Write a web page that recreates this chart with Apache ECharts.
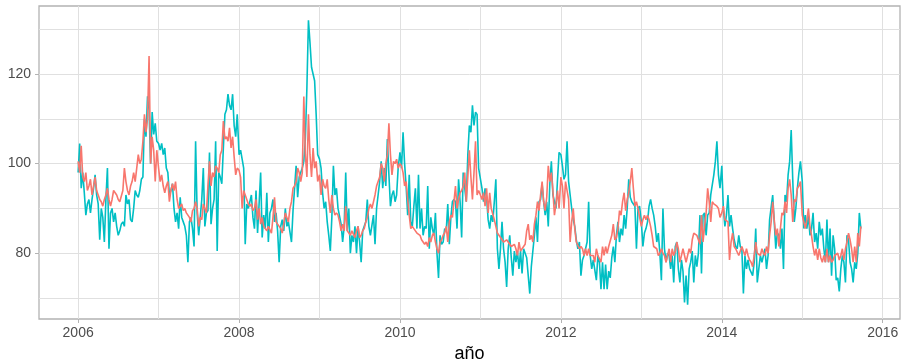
<!DOCTYPE html>
<html>
<head>
<meta charset="utf-8">
<script src="https://cdn.jsdelivr.net/npm/echarts@6/dist/echarts.min.js"></script>
<style>
html,body{margin:0;padding:0;background:#ffffff;}
#chart{width:901px;height:361px;}
</style>
</head>
<body>
<div id="chart"></div>
<script>
// ---- data: weekly values, one list per year (2006 … 2015) ----
const years = [2006, 2007, 2008, 2009, 2010, 2011, 2012, 2013, 2014, 2015];

const redByYear = [
  [100.5,98,104,97,96,98,94,95,96.5,93, 95,97,94,93,92,91.5,90.5,92,93,94.5, 92,90.5,92,94,93.5,93,92,91.5,91.5,94, 99,96,94,93,95,96,98,96,99,102, 100,101,105,111,107,110,124,100,106,103, 96,103],
  [99,96,97.5,95,93.5,95,96,91.5,94,95.5, 94,96,92,90,90.5,91,89.5,90,89,88.5, 88,87,89.5,90,91.5,90,86,88,87.5,91, 90,89,95,100.5,95,98,97,99.5,99,98, 102,103,109.5,105.5,106,105,108,103.5,106,101.5, 97.5,99],
  [98.5,97,90,94,93,92,91,90.5,91,89.5, 90,92,87.5,90,86.5,88,86,85.5,85,86, 86,84.5,88,92.5,87,86.5,86,85.5,84.5,86.5, 89,88,87,90,91.5,94.5,95,96,99,98, 96,98,115,102,97,111,102,97,103.5,99, 100.5,96],
  [97.5,93,96.5,95,94.5,96.5,92,89,93,90, 88.5,89,88.5,87,85,86.5,85,90.5,85,84.5, 84,85,85,83.5,85,86,83.5,84,85,85.5, 87,88,90,91,90,91.5,93,95,95,97, 100,99,96,100,102,109,102,97.5,100.5,100, 101,99],
  [100,99.5,98,95,96,92,88.5,85.5,86,86, 85,84.5,84.5,84,83,83,82,82.5,81.5,83.5, 82.5,84,84.5,82.5,81,80,82.5,83,84,84.5, 86,82.5,87,88.5,88,91.5,95,90,92,93.5, 94,95,98,91.5,97,103,97,92,98,105, 93,94],
  [93,92,93.5,90.5,94.5,89,93.5,90,90,87.5, 86,84.5,84,83.5,83,82.5,82.5,83,82.5,82.5, 81.5,81.5,82,81,79.5,82.5,80.5,81,81.5,82, 85,86.5,83,84,82.5,86.5,88.5,91.5,89.5,93, 96,91.5,89.5,92.5,99.5,96,98,94,88.5,91, 94,90],
  [97,95,90,96,96,92,82.5,87,90,85.5, 82.5,82.5,81,81.5,81,79.5,81,79.5,81,79.5, 79.5,79.5,78,81,79.5,79.5,78,81.5,79.5,81.5, 80,81.5,81.5,84,86.5,83,83.5,85.5,89.5,88.5, 91.5,93.5,89.5,92,93.5,96,99,94.5,90.5,91.5, 90,90],
  [86,87.5,88.5,87.5,88.5,87.5,86,84,81.5,81.5, 81,79.5,80,81,80,79.5,78,79.5,81,78, 81,79.5,80.5,82.5,81,78,79.5,81,79.5,78, 79.5,81,80,83,84.5,84.5,84,83,82,88.5, 82.5,86,89,94.5,91.5,87,91.5,91,91,90.5, 90,88],
  [89,90.5,87.5,87.5,87,78.5,82.5,84.5,81.5,81, 81,79.5,79.5,81.5,80.5,79.5,81,79.5,78.5,78, 77,79.5,82.5,80,80,79.5,81,80,79.5,81.5, 80,84,87,91.5,87.5,84,85.5,81.5,85.5,89, 88.5,91.5,89,94.5,96.5,93,87,92,91.5,94.5, 95,96],
  [88.5,87,85.5,87.5,90,86,84,81.5,79.5,81, 78.5,81,79,78,79.5,78,81,78,79.5,78, 78.5,79.5,79.5,80,78.5,79.5,81,78.5,81,82.5, 84.5,83,81,78,81.5,78,84.5,81.5,86]
];

const cyanByYear = [
  [98,104.5,94.5,98,93.5,88.5,91,92,89,92, 94.5,97.5,93,91,83,90,88,82.5,92,99, 81,89,90,87,89,86,84,85,86.5,87, 86,93,91,92,87.5,87,90,94,93,92.5, 94,96.5,97,110,106,115,112,100,111.5,106.5, 109,105],
  [104.5,103,104.5,102,103.5,99,98,93,94,95.5, 90,87,89,85.5,92.5,88,87,86,84,78, 87,88,85.5,81.5,105,89,84,88,92,99, 86,89,89.5,102.5,86.5,90,92,105,80.5,98, 97,95.5,103.5,111,112,115.5,113,112,115.5,108.5, 106,111],
  [102,103,101,99,82,91,90,91.5,93,88, 85.5,94,84.5,91,98,83.5,88.5,85.5,93.5,82.5, 89,90,92,87,89,85,78,86,87.5,85, 90,86,87,87,82.5,89.5,94.5,99.5,92.5,97, 98,99,100.5,105.5,117,132,127,121.5,120,118.5, 111,102],
  [101,99,93.5,90,91.5,87,84,80.5,88,99.5, 93,94.5,90,90,86.5,82.5,86,98,85,90, 80,84,82.5,86,80,86,82.5,78,85,85, 87,92,86,84,84,88.5,82,90,93,96, 100.5,94.5,99,95,105.5,97.5,90.5,93,94,91.5, 93,99],
  [102.5,99,107,100,95,88.5,97.5,87,86,90.5, 94.5,85.5,97.5,85.5,90,84,86,85.5,95,81, 88,85.5,84,89,80,74.5,84,82,82.5,85.5, 85,91,82,88,91.5,92,91.5,85.5,96.5,91.5, 83.5,98,94.5,91.5,102,108.5,107,113,108.5,111.5, 111,99],
  [99,94.5,91.5,94.5,92.5,87.5,85.5,88.5,87,91.5, 96.5,81,76.5,81,87,81,78,72.5,81,84, 79,75,80.5,78,80.5,76.5,80.5,75.5,81,80, 79,79,71,77,80.5,84,88,82.5,91.5,92, 95.5,91.5,88.5,91.5,86,95.5,100.5,93,91.5,90, 96.5,102.5],
  [102,99.5,96.5,97.5,105,96,93,90,87.5,86, 83,81,82.5,75,78.5,79.5,81,82.5,91.5,79.5, 76.5,78.5,78.5,74,79.5,78,72,78,72,77.5, 72,76,74.5,79,81.5,78,84,87,82.5,85.5, 84,88.5,85.5,90,96.5,92.5,91.5,91.5,90.5,81, 90,90.5],
  [87,81.5,84.5,85.5,87,90.5,92,90,88.5,86, 82.5,84.5,80,74,90,81,78,80,79.5,76.5, 79.5,73.5,81.5,82.5,76.5,73.5,78.5,76,69,75, 68.5,76.5,78,80.5,73.5,79.5,77,80,88.5,75.5, 88.5,89,84,88.5,89,93,93,97.5,100.5,105, 97.5,94.5],
  [99.5,90,86,88.5,93,86,88.5,85.5,83,81.5, 81,84,81.5,81,71,79.5,76.5,78.5,76.5,76.5, 75,78,85.5,73.5,76.5,79.5,78,79.5,81,76.5, 79.5,87.5,87.5,93,87,81,84.5,84,81,85.5, 76.5,93,91.5,97.5,100.5,107.5,96.5,87,90,94.5, 98,100.5],
  [96,85.5,88.5,85.5,88.5,84,85.5,89,82.5,84.5, 81,87,84,85.5,81,78,87.5,78,85.5,75, 84,81,74,74.5,71.5,76.5,79.5,78,73.5,84, 83,78,76.5,73.5,78,76.5,80,89,85.5]
];

// ---- axis ticks ----
const xMajorTicks = [2006, 2008, 2010, 2012, 2014, 2016];
const xMinorTicks = [2007, 2009, 2011, 2013, 2015];
const yMajorTicks = [80, 100, 120];
const yMinorTicks = [70, 90, 110, 130];
const xTitle = 'año';

// weekly positions within each year
function toPoints(byYear) {
  const pts = [];
  byYear.forEach(function (vals, i) {
    vals.forEach(function (v, w) { pts.push([years[i] + w * 7 / 365.25, v]); });
  });
  return pts;
}
const redPoints = toPoints(redByYear);
const cyanPoints = toPoints(cyanByYear);

const expandMin = function (e) { return e.min - 0.05 * (e.max - e.min); };
const expandMax = function (e) { return e.max + 0.05 * (e.max - e.min); };

const chart = echarts.init(document.getElementById('chart'), null, { renderer: 'canvas' });
const gridCol = '#e0e0e0';
const option = {
  backgroundColor: '#ffffff',
  animation: false,
  textStyle: { fontFamily: '"Liberation Sans", Arial, sans-serif' },
  grid: {
    left: 39, right: 1, top: 6, bottom: 42,
    show: true, borderColor: '#b3b3b3', borderWidth: 1.3, backgroundColor: 'transparent',
    containLabel: false, outerBoundsMode: 'none'
  },
  xAxis: [
    {
      type: 'value', min: expandMin, max: expandMax, position: 'bottom',
      name: xTitle, nameLocation: 'middle', nameGap: 25,
      nameTextStyle: { color: '#000000', fontSize: 18, fontFamily: '"Liberation Sans", Arial, sans-serif' },
      axisLine: { show: false },
      axisTick: { show: true, length: 4, lineStyle: { color: '#b3b3b3', width: 1 }, customValues: xMajorTicks },
      axisLabel: { show: true, customValues: xMajorTicks, color: '#4d4d4d', fontSize: 14, margin: 7,
        formatter: function (v) { return String(Math.round(v)); } },
      splitLine: { show: true, lineStyle: { color: gridCol, width: 1 } }
    },
    {
      type: 'value', min: expandMin, max: expandMax, position: 'bottom',
      axisLine: { show: false },
      axisTick: { show: false, customValues: xMinorTicks },
      axisLabel: { show: false, customValues: xMinorTicks },
      splitLine: { show: true, lineStyle: { color: gridCol, width: 1 } }
    }
  ],
  yAxis: [
    {
      type: 'value', min: expandMin, max: expandMax,
      axisLine: { show: false },
      axisTick: { show: true, length: 4, lineStyle: { color: '#b3b3b3', width: 1 }, customValues: yMajorTicks },
      axisLabel: { show: true, customValues: yMajorTicks, color: '#4d4d4d', fontSize: 14, margin: 8 },
      splitLine: { show: true, lineStyle: { color: gridCol, width: 1 } }
    },
    {
      type: 'value', min: expandMin, max: expandMax, position: 'left',
      axisLine: { show: false },
      axisTick: { show: false, customValues: yMinorTicks },
      axisLabel: { show: false, customValues: yMinorTicks },
      splitLine: { show: true, lineStyle: { color: gridCol, width: 1 } }
    }
  ],
  series: [
    {
      type: 'line', xAxisIndex: 0, yAxisIndex: 0, data: cyanPoints,
      showSymbol: false, symbol: 'none', z: 3,
      lineStyle: { color: '#00BFC4', width: 1.6 }, itemStyle: { color: '#00BFC4' }
    },
    {
      type: 'line', xAxisIndex: 0, yAxisIndex: 0, data: redPoints,
      showSymbol: false, symbol: 'none', z: 4,
      lineStyle: { color: '#F8766D', width: 1.6 }, itemStyle: { color: '#F8766D' }
    },
    {
      type: 'line', xAxisIndex: 1, yAxisIndex: 1, data: cyanPoints,
      showSymbol: false, symbol: 'none', silent: true,
      lineStyle: { opacity: 0 }, itemStyle: { opacity: 0 }
    }
  ]
};
chart.setOption(option);
</script>
</body>
</html>
